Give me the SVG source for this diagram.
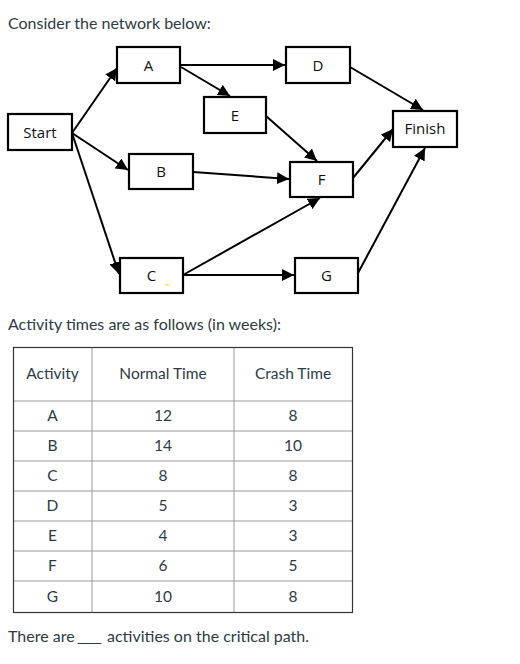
<svg xmlns="http://www.w3.org/2000/svg" width="520" height="664" viewBox="0 0 520 664">
<style>
.box{fill:#fff;stroke:#000;stroke-width:2.2}
.lbl{font-family:"Open Sans","Noto Sans",sans-serif;font-size:15px;fill:#111;text-anchor:middle}
.edge{stroke:#000;stroke-width:2;fill:none;marker-end:url(#ah)}
.txt{font-family:Lato,"Open Sans",sans-serif;font-size:16px;fill:#2d3b45}
.cell{font-family:Lato,"Open Sans",sans-serif;font-size:15.5px;fill:#2d3b45;text-anchor:middle}
.grid{stroke:#9a9a9a;stroke-width:1}
</style>
<defs>
<marker id="ah" viewBox="0 0 10 10" refX="10" refY="5" markerWidth="6" markerHeight="6" orient="auto" markerUnits="strokeWidth">
<path d="M0,0 L10,5 L0,10 z" fill="#000"/>
</marker>
</defs>
<rect width="520" height="664" fill="#fff"/>
<text class="txt" x="8" y="29">Consider the network below:</text>

<g id="connectors">
<line class="edge" x1="72" y1="133" x2="117" y2="68"/>
<line class="edge" x1="72" y1="133" x2="128" y2="170"/>
<line class="edge" x1="72" y1="133" x2="119" y2="274"/>
<line class="edge" x1="180" y1="65" x2="285" y2="65"/>
<line class="edge" x1="181" y1="67" x2="230" y2="96"/>
<line class="edge" x1="266" y1="116" x2="317" y2="161"/>
<line class="edge" x1="193" y1="172" x2="289" y2="179"/>
<line class="edge" x1="183" y1="275" x2="320" y2="198"/>
<line class="edge" x1="183" y1="275" x2="294" y2="275"/>
<line class="edge" x1="350" y1="67" x2="423" y2="110"/>
<line class="edge" x1="353" y1="178" x2="393" y2="129"/>
<line class="edge" x1="358" y1="273" x2="425" y2="148"/>
</g>

<g id="Start"><rect class="box" x="8" y="114" width="64" height="36"/><text class="lbl" x="40" y="138">Start</text></g>
<g id="A"><rect class="box" x="117" y="47" width="63" height="36"/><text class="lbl" x="148.5" y="71">A</text></g>
<g id="E"><rect class="box" x="204" y="97" width="62" height="36"/><text class="lbl" x="235" y="121">E</text></g>
<g id="B"><rect class="box" x="129" y="154" width="64" height="35"/><text class="lbl" x="161" y="177">B</text></g>
<g id="C"><rect class="box" x="120" y="258" width="63" height="35"/><text class="lbl" x="151.5" y="281">C</text><rect x="165" y="284" width="4" height="1.5" fill="#f5e35a"/></g>
<g id="D"><rect class="box" x="286" y="47" width="64" height="36"/><text class="lbl" x="318" y="71">D</text></g>
<g id="F"><rect class="box" x="290" y="162" width="63" height="35"/><text class="lbl" x="321.5" y="185">F</text></g>
<g id="G"><rect class="box" x="295" y="258" width="63" height="35"/><text class="lbl" x="326.5" y="281">G</text></g>
<g id="Finish"><rect class="box" x="393" y="111" width="64" height="36"/><text class="lbl" x="425" y="134">Finish</text></g>

<text class="txt" x="8" y="330">Activity times are as follows (in weeks):</text>

<g id="table">
<g class="grid">
<line x1="92" y1="347" x2="92" y2="612"/>
<line x1="234" y1="347" x2="234" y2="612"/>
<line x1="13" y1="401" x2="352" y2="401"/>
<line x1="13" y1="431" x2="352" y2="431"/>
<line x1="13" y1="461" x2="352" y2="461"/>
<line x1="13" y1="491" x2="352" y2="491"/>
<line x1="13" y1="521" x2="352" y2="521"/>
<line x1="13" y1="551" x2="352" y2="551"/>
<line x1="13" y1="581" x2="352" y2="581"/>
</g>
<rect x="13.5" y="347.5" width="339" height="265" fill="none" stroke="#333" stroke-width="1.2"/>
<text class="cell" x="52.5" y="379">Activity</text>
<text class="cell" x="163" y="379">Normal Time</text>
<text class="cell" x="293" y="379">Crash Time</text>
<text class="cell" x="52.5" y="421">A</text><text class="cell" x="163" y="421">12</text><text class="cell" x="293" y="421">8</text>
<text class="cell" x="52.5" y="451">B</text><text class="cell" x="163" y="451">14</text><text class="cell" x="293" y="451">10</text>
<text class="cell" x="52.5" y="481">C</text><text class="cell" x="163" y="481">8</text><text class="cell" x="293" y="481">8</text>
<text class="cell" x="52.5" y="511">D</text><text class="cell" x="163" y="511">5</text><text class="cell" x="293" y="511">3</text>
<text class="cell" x="52.5" y="541">E</text><text class="cell" x="163" y="541">4</text><text class="cell" x="293" y="541">3</text>
<text class="cell" x="52.5" y="571">F</text><text class="cell" x="163" y="571">6</text><text class="cell" x="293" y="571">5</text>
<text class="cell" x="52.5" y="602">G</text><text class="cell" x="163" y="602">10</text><text class="cell" x="293" y="602">8</text>
</g>

<text class="txt" x="8" y="642">There are</text>
<text class="txt" x="77" y="642" letter-spacing="-1.5">____</text>
<text class="txt" x="107" y="642">activities on the critical path.</text>
</svg>
